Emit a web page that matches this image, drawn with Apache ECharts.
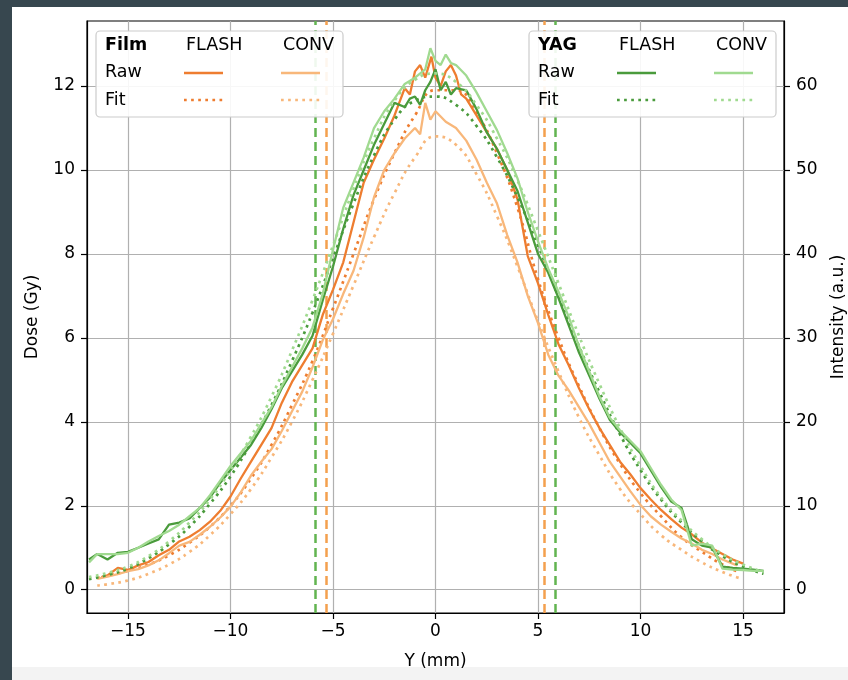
<!DOCTYPE html>
<html><head><meta charset="utf-8">
<script src="https://cdn.jsdelivr.net/npm/echarts@6/dist/echarts.min.js"></script>
<style>html,body{margin:0;padding:0;background:#fff}#c{width:848px;height:680px}</style>
</head><body><div id="c"></div>
<script>
// ---- tick labels ----
const xTicks = [-15, -10, -5, 0, 5, 10, 15];
const doseTicks = [0, 2, 4, 6, 8, 10, 12];
const intensityTicks = [0, 10, 20, 30, 40, 50, 60];

// ---- legend text ----
const legendRows = ['Raw', 'Fit'];
const legendCols = ['FLASH', 'CONV'];

// ---- Film (Dose, Gy) : [Y mm, dose] ----
const filmFlashRaw = [[-16.3,0.30],[-16,0.34],[-15.5,0.52],[-15,0.47],[-14.5,0.58],[-14,0.66],[-13.5,0.82],[-13,0.95],[-12.5,1.15],[-12,1.26],[-11.5,1.42],[-11,1.62],[-10.5,1.88],[-10,2.22],[-9.5,2.65],[-9,3.05],[-8.5,3.45],[-8,3.85],[-7.5,4.45],[-7,4.95],[-6.5,5.35],[-6,5.75],[-5.5,6.55],[-5,7.15],[-4.5,7.8],[-4,8.75],[-3.5,9.7],[-3,10.25],[-2.5,10.75],[-2,11.3],[-1.5,11.95],[-1.25,11.8],[-1,12.35],[-0.75,12.5],[-0.5,12.2],[-0.35,12.45],[-0.2,12.7],[0,12.2],[0.25,12.0],[0.5,12.35],[0.75,12.5],[1,12.25],[1.25,11.8],[1.5,11.7],[2,11.3],[2.5,10.9],[3,10.5],[3.5,10.0],[4,9.3],[4.5,7.95],[5,7.3],[5.5,6.55],[6,5.85],[6.5,5.35],[7,4.8],[7.5,4.3],[8,3.85],[8.5,3.45],[9,3.05],[9.5,2.75],[10,2.42],[10.5,2.15],[11,1.9],[11.5,1.68],[12,1.48],[12.5,1.32],[13,1.12],[13.5,0.98],[14,0.85],[14.5,0.72],[15,0.62]];
const filmFlashFit = [[-16.5,0.28],[-16,0.33],[-15,0.45],[-14,0.6],[-13,0.82],[-12,1.12],[-11,1.5],[-10,2.0],[-9,2.65],[-8,3.45],[-7,4.4],[-6,5.45],[-5,6.7],[-4,8.0],[-3,9.3],[-2,10.4],[-1,11.3],[0,11.9],[1,11.9],[2,11.35],[3,10.4],[4,9.1],[5,7.4],[6,6.0],[7,4.85],[8,3.85],[9,3.0],[10,2.3],[11,1.75],[12,1.25],[13,0.9],[14,0.6],[14.8,0.42]];
const filmConvRaw = [[-16.5,0.26],[-16,0.31],[-15.5,0.37],[-15,0.44],[-14.5,0.49],[-14,0.58],[-13.5,0.7],[-13,0.87],[-12.5,1.05],[-12,1.14],[-11.5,1.31],[-11,1.5],[-10.5,1.72],[-10,1.98],[-9.5,2.32],[-9,2.72],[-8.5,3.05],[-8,3.35],[-7.5,3.78],[-7,4.25],[-6.5,4.72],[-6,5.3],[-5.5,5.95],[-5,6.45],[-4.5,7.05],[-4,7.6],[-3.5,8.4],[-3,9.35],[-2.5,10.0],[-2,10.4],[-1.5,10.75],[-1,11.0],[-0.75,10.85],[-0.5,11.6],[-0.25,11.2],[0,11.4],[0.5,11.15],[1,11.0],[1.5,10.7],[2,10.25],[2.5,9.7],[3,9.2],[3.5,8.45],[4,7.8],[4.5,7.0],[5,6.35],[5.5,5.6],[6,5.1],[6.5,4.75],[7,4.35],[7.5,3.95],[8,3.5],[8.5,3.05],[9,2.7],[9.5,2.35],[10,2.02],[10.5,1.75],[11,1.55],[11.5,1.38],[12,1.22],[12.5,1.1],[13,0.95],[13.5,0.85],[14,0.72],[14.7,0.58]];
const filmConvFit = [[-16.5,0.1],[-16,0.13],[-15,0.22],[-14,0.38],[-13,0.6],[-12,0.9],[-11,1.3],[-10,1.8],[-9,2.4],[-8,3.15],[-7,4.0],[-6,5.0],[-5,6.1],[-4,7.25],[-3,8.4],[-2,9.45],[-1,10.3],[0,10.8],[1,10.6],[2,9.9],[3,8.9],[4,7.7],[5,6.4],[6,5.2],[7,4.1],[8,3.2],[9,2.4],[10,1.8],[11,1.3],[12,0.95],[13,0.65],[14,0.42],[14.8,0.28]];

// ---- YAG (Intensity, a.u.) : [Y mm, intensity] ----
const yagFlashRaw = [[-16.9,3.6],[-16.5,4.25],[-16,3.6],[-15.5,4.4],[-15,4.5],[-14.5,5.0],[-14,5.5],[-13.5,6.0],[-13,7.75],[-12.5,8.0],[-12,8.5],[-11.5,9.75],[-11,11.0],[-10.5,12.75],[-10,14.25],[-9.5,15.75],[-9,17.25],[-8.5,19.25],[-8,21.5],[-7.5,24.0],[-7,26.0],[-6.5,28.0],[-6,30.25],[-5.5,34.5],[-5,38.5],[-4.5,43.0],[-4,47.0],[-3.5,50.0],[-3,53.0],[-2.5,55.5],[-2,58.0],[-1.5,57.5],[-1.25,58.5],[-1,58.75],[-0.75,57.75],[-0.5,59.5],[-0.25,60.5],[0,62.0],[0.25,59.5],[0.5,60.5],[0.75,59.0],[1,59.75],[1.5,59.5],[2,57.25],[2.5,54.5],[3,52.5],[3.5,50.0],[4,47.5],[4.5,43.75],[5,40.0],[5.5,37.75],[6,34.75],[6.5,31.5],[7,28.25],[7.5,25.5],[8,22.75],[8.5,20.25],[9,18.75],[9.5,17.5],[10,16.25],[10.5,14.25],[11,12.25],[11.5,10.5],[12,9.75],[12.5,6.0],[13,5.25],[13.5,5.0],[14,2.75],[14.5,2.6],[15,2.5],[15.5,2.4],[16,2.25]];
const yagFlashFit = [[-16.9,1.25],[-16,1.75],[-15,2.5],[-14,3.75],[-13,5.4],[-12,7.5],[-11,10.25],[-10,13.5],[-9,17.5],[-8,22.0],[-7,27.25],[-6,33.0],[-5,39.5],[-4,46.0],[-3,51.75],[-2,56.0],[-1,58.25],[0,58.75],[1,57.75],[2,55.25],[3,51.5],[4,46.75],[5,41.0],[6,35.0],[7,29.0],[8,23.5],[9,18.5],[10,14.25],[11,10.75],[12,8.0],[13,5.75],[14,4.0],[15,2.75],[16,1.9]];
const yagConvRaw = [[-16.9,3.25],[-16.5,4.25],[-16,4.25],[-15.5,4.25],[-15,4.4],[-14.5,5.0],[-14,5.75],[-13.5,6.4],[-13,7.0],[-12.5,7.75],[-12,8.75],[-11.5,9.75],[-11,11.25],[-10.5,13.0],[-10,14.75],[-9.5,16.25],[-9,17.75],[-8.5,19.75],[-8,21.75],[-7.5,24.25],[-7,26.5],[-6.5,28.75],[-6,31.25],[-5.5,35.25],[-5,40.5],[-4.5,45.5],[-4,48.5],[-3.5,51.5],[-3,55.0],[-2.5,57.0],[-2,58.5],[-1.5,60.25],[-1,61.0],[-0.5,62.0],[-0.25,64.5],[0,63.0],[0.25,62.5],[0.5,63.75],[0.75,62.75],[1,62.5],[1.5,61.25],[2,59.25],[2.5,57.0],[3,54.75],[3.5,52.0],[4,49.0],[4.5,45.0],[5,41.5],[5.5,38.25],[6,35.5],[6.5,32.5],[7,29.0],[7.5,26.0],[8,23.0],[8.5,20.5],[9,19.0],[9.5,17.75],[10,16.5],[10.5,14.5],[11,12.5],[11.5,10.75],[12,9.5],[12.5,5.25],[13,5.5],[13.5,5.25],[14,2.5],[14.5,2.4],[15,2.35],[15.5,2.25],[16,2.25]];
const yagConvFit = [[-16.9,1.5],[-16,2.0],[-15,2.75],[-14,4.0],[-13,5.75],[-12,8.0],[-11,10.75],[-10,14.25],[-9,18.25],[-8,23.0],[-7,28.5],[-6,34.5],[-5,41.0],[-4,47.75],[-3,53.75],[-2,58.25],[-1,60.75],[0,61.5],[1,60.5],[2,57.75],[3,53.75],[4,48.75],[5,42.75],[6,36.5],[7,30.25],[8,24.5],[9,19.25],[10,14.75],[11,11.0],[12,8.25],[13,6.0],[14,4.25],[15,3.0],[16,2.1]];

// ---- beam edge markers (Y mm) ----
const filmEdges = [-5.32, 5.32];
const yagEdges = [-5.85, 5.85];

const C = {
  filmFlash: '#ee7d30', filmConv: '#f8b77a',
  yagFlash: '#4a9b3c', yagConv: '#a0da90',
  filmEdge: '#f4a04e', yagEdge: '#62b450'
};
const FONT = '"DejaVu Sans", sans-serif';
const FS = 17;

function rawSeries(name, data, color, yIdx) {
  return { name, type: 'line', data, yAxisIndex: yIdx, showSymbol: false, symbol: 'none',
    lineStyle: { color, width: 2.3 }, itemStyle: { color }, animation: false };
}
function fitSeries(name, data, color, yIdx) {
  return { name, type: 'line', data, yAxisIndex: yIdx, showSymbol: false, symbol: 'none', smooth: true,
    lineStyle: { color, width: 2.7, type: [2.7, 4.4], cap: 'butt' }, itemStyle: { color }, animation: false };
}

function legendBox(x0, title, colors) {
  const w = 247, h = 86, y0 = 31, Z = 100;
  const children = [
    { type: 'rect', z: Z, shape: { x: x0, y: y0, width: w, height: h, r: 4 },
      style: { fill: 'rgba(255,255,255,0.9)', stroke: '#cccccc', lineWidth: 1.2 } },
    { type: 'text', z: Z + 1, x: x0 + 9, y: y0 + 14, style: { text: title, font: 'bold 17.5px ' + FONT, fill: '#000', verticalAlign: 'middle', align: 'left' } }
  ];
  const colX = [x0 + 90, x0 + 187];
  legendCols.forEach((t, i) => children.push({ type: 'text', z: Z + 1, x: colX[i], y: y0 + 14,
    style: { text: t, font: '17.5px ' + FONT, fill: '#000', verticalAlign: 'middle', align: 'left' } }));
  const rowY = [y0 + 41, y0 + 69];
  legendRows.forEach((t, i) => children.push({ type: 'text', z: Z + 1, x: x0 + 9, y: rowY[i],
    style: { text: t, font: '17.5px ' + FONT, fill: '#000', verticalAlign: 'middle', align: 'left' } }));
  const lineX = [x0 + 88, x0 + 185];
  colors.forEach((c, i) => {
    children.push({ type: 'line', z: Z + 1, shape: { x1: lineX[i], y1: rowY[0] + 1, x2: lineX[i] + 39, y2: rowY[0] + 1 },
      style: { stroke: c, lineWidth: 2.6 } });
    children.push({ type: 'line', z: Z + 1, shape: { x1: lineX[i], y1: rowY[1], x2: lineX[i] + 39, y2: rowY[1] },
      style: { stroke: c, lineWidth: 2.7, lineDash: [2.7, 4.4] } });
  });
  return { type: 'group', z: Z, children };
}

const chart = echarts.init(document.getElementById('c'), null, { renderer: 'canvas' });
const axisLineStyle = { color: '#000', width: 1.2 };
chart.setOption({
  animation: false,
  backgroundColor: '#ffffff',
  grid: { left: 87, top: 21, right: 64, bottom: 67, containLabel: false, outerBoundsMode: 'none',
    show: true, borderColor: '#000', borderWidth: 1.2, backgroundColor: 'transparent' },
  xAxis: {
    type: 'value', min: -17, max: 17,
    name: 'Y (mm)', nameLocation: 'middle', nameGap: 40,
    nameTextStyle: { fontFamily: FONT, fontSize: FS, color: '#000' },
    axisLine: { show: true, onZero: false, lineStyle: axisLineStyle },
    axisTick: { show: true, inside: false, length: 6, customValues: xTicks, lineStyle: axisLineStyle },
    axisLabel: { customValues: xTicks, fontFamily: FONT, fontSize: FS, color: '#000', margin: 10,
      formatter: v => (v < 0 ? '\u2212' + Math.abs(v) : String(v)) },
    splitLine: { show: true, lineStyle: { color: '#b0b0b0', width: 1.2 } }
  },
  yAxis: [{
    type: 'value', min: -0.555, max: 13.55, position: 'left',
    name: 'Dose (Gy)', nameLocation: 'middle', nameGap: 46, nameRotate: 90,
    nameTextStyle: { fontFamily: FONT, fontSize: FS, color: '#000' },
    axisLine: { show: true, onZero: false, lineStyle: axisLineStyle },
    axisTick: { show: true, length: 6, customValues: doseTicks, lineStyle: axisLineStyle },
    axisLabel: { customValues: doseTicks, fontFamily: FONT, fontSize: FS, color: '#000', margin: 12 },
    splitLine: { show: true, lineStyle: { color: '#b0b0b0', width: 1.2 } }
  }, {
    type: 'value', min: -2.775, max: 67.75, position: 'right',
    name: 'Intensity (a.u.)', nameLocation: 'middle', nameGap: 46, nameRotate: 90,
    nameTextStyle: { fontFamily: FONT, fontSize: FS, color: '#000' },
    axisLine: { show: true, onZero: false, lineStyle: axisLineStyle },
    axisTick: { show: true, length: 6, customValues: intensityTicks, lineStyle: axisLineStyle },
    axisLabel: { customValues: intensityTicks, fontFamily: FONT, fontSize: FS, color: '#000', margin: 12 },
    splitLine: { show: false }
  }],
  series: [
    rawSeries('Film FLASH Raw', filmFlashRaw, C.filmFlash, 0),
    fitSeries('Film FLASH Fit', filmFlashFit, C.filmFlash, 0),
    rawSeries('Film CONV Raw', filmConvRaw, C.filmConv, 0),
    fitSeries('Film CONV Fit', filmConvFit, C.filmConv, 0),
    Object.assign(rawSeries('YAG FLASH Raw', yagFlashRaw, C.yagFlash, 1), {
      markLine: { silent: true, symbol: 'none', label: { show: false }, z: 3,
        lineStyle: { color: C.yagEdge, width: 2.5, type: [9, 5] },
        data: yagEdges.map(v => ({ xAxis: v })) }
    }),
    fitSeries('YAG FLASH Fit', yagFlashFit, C.yagFlash, 1),
    Object.assign(rawSeries('YAG CONV Raw', yagConvRaw, C.yagConv, 1), {
      markLine: { silent: true, symbol: 'none', label: { show: false }, z: 3,
        lineStyle: { color: C.filmEdge, width: 2.5, type: [9, 5] },
        data: filmEdges.map(v => ({ xAxis: v })) }
    }),
    fitSeries('YAG CONV Fit', yagConvFit, C.yagConv, 1)
  ],
  graphic: [
    { type: 'rect', z: 0, shape: { x: 0, y: 0, width: 848, height: 7 }, style: { fill: '#37474f' } },
    { type: 'rect', z: 0, shape: { x: 0, y: 0, width: 12, height: 680 }, style: { fill: '#37474f' } },
    { type: 'rect', z: 0, shape: { x: 12, y: 667, width: 836, height: 13 }, style: { fill: '#f3f3f3' } },
    legendBox(96, 'Film', [C.filmFlash, C.filmConv]),
    legendBox(529, 'YAG', [C.yagFlash, C.yagConv])
  ]
});
</script>
</body></html>
